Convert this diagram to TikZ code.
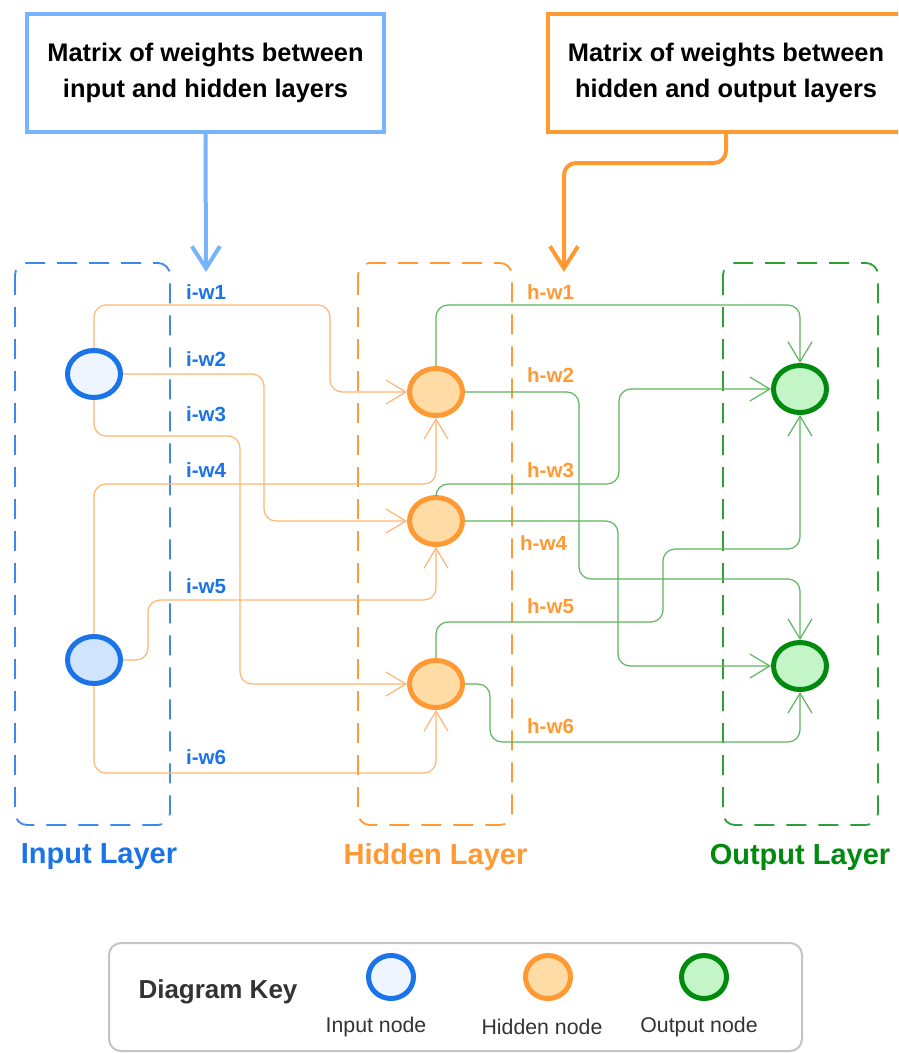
\documentclass[tikz,border=0pt]{standalone}
\usepackage{fontspec}
\setmainfont{Liberation Sans}
\usetikzlibrary{shapes.geometric,arrows.meta}
\definecolor{iblue}{HTML}{1A73E8}
\definecolor{tblue}{HTML}{78B4FE}
\definecolor{horange}{HTML}{FF9933}
\definecolor{cor}{HTML}{FFB570}
\definecolor{ogreen}{HTML}{008A0E}
\definecolor{lgreen}{HTML}{2E9E36}
\definecolor{cgr}{HTML}{5DB55D}
\definecolor{ifillA}{HTML}{EEF5FE}
\definecolor{ifillB}{HTML}{D0E4FE}
\definecolor{hfill}{HTML}{FFDBA6}
\definecolor{ofill}{HTML}{C3F5C7}
\definecolor{keygray}{HTML}{C4C4C4}
\definecolor{txtgray}{HTML}{333333}
\begin{document}
\begin{tikzpicture}[x=1pt,y=-1pt,
  topbox/.style={draw, line width=4pt, fill=white, minimum width=357pt, minimum height=118pt, inner sep=0pt, align=center, font=\fontsize{25.4}{36}\selectfont\bfseries},
  neuron/.style={ellipse, line width=5pt, minimum width=53pt, minimum height=47pt, inner sep=0pt},
  keyneuron/.style={ellipse, line width=5pt, minimum width=45pt, minimum height=43pt, inner sep=0pt},
  layerbox/.style={line width=1.8pt, rounded corners=12pt, dash pattern=on 20pt off 12pt},
  oconn/.style={draw=cor, line width=1.2pt, rounded corners=12pt, -{Straight Barb[length=20pt,width=24pt]}},
  gconn/.style={draw=cgr, line width=1.2pt, rounded corners=12pt, -{Straight Barb[length=20pt,width=24pt]}},
  wlab/.style={anchor=west, inner sep=0pt, font=\fontsize{20.5}{24}\selectfont\bfseries},
  layerlab/.style={inner sep=0pt, font=\fontsize{29}{34}\selectfont\bfseries},
  keylab/.style={inner sep=0pt, text=txtgray, font=\fontsize{21.3}{25}\selectfont},
  bigarrow/.style={line width=4pt, rounded corners=12pt, -{Straight Barb[length=22pt,width=28pt]}}
]
\useasboundingbox (0,0) rectangle (898,1053);
\clip (0,0) rectangle (898,1053);

% layer boxes
\draw[layerbox, draw=iblue!85] (15,263) rectangle (170,825);
\draw[layerbox, draw=horange] (358,263) rectangle (512,825);
\draw[layerbox, draw=lgreen] (723,263) rectangle (878,825);

% top boxes
\node[topbox, draw=tblue] (mA) at (205.5,73) {Matrix of weights between\\input and hidden layers};
\node[topbox, draw=horange] (mB) at (726,73) {Matrix of weights between\\hidden and output layers};
\coordinate (ta) at (206,272);
\coordinate (tb) at (564,272);
\draw[bigarrow, draw=tblue] (mA.south) -- (ta);
\draw[bigarrow, draw=horange] (mB.south) -- (726,163) -| (tb);

% neurons
\node[neuron, draw=iblue, fill=ifillA] (i1) at (94,374) {};
\node[neuron, draw=iblue, fill=ifillB] (i2) at (94,660) {};
\node[neuron, draw=horange, fill=hfill] (h1) at (436,392) {};
\node[neuron, draw=horange, fill=hfill] (h2) at (436,521) {};
\node[neuron, draw=horange, fill=hfill] (h3) at (436,684) {};
\node[neuron, draw=ogreen, fill=ofill] (o1) at (800,389) {};
\node[neuron, draw=ogreen, fill=ofill] (o2) at (800,666) {};

% input -> hidden
\draw[oconn] (i1.north) |- (330,305) |- (h1.west);
\draw[oconn] (i1.east) -| (264,521) -- (h2.west);
\draw[oconn] (i1.south) |- (240,436) |- (h3.west);
\draw[oconn] (i2.north) |- (436,484) -- (h1.south);
\draw[oconn] (i2.east) -| (148,600) -| (h2.south);
\draw[oconn] (i2.south) |- (436,773) -- (h3.south);

% hidden -> output
\draw[gconn] (h1.north) |- (800,305) -- (o1.north);
\draw[gconn] (h1.east) -| (579,579) -| (o2.north);
\draw[gconn] (h2.north) |- (619,484) |- (o1.west);
\draw[gconn] (h2.east) -| (618,666) -- (o2.west);
\draw[gconn] (h3.north) |- (663,622) |- (800,549) -- (o1.south);
\draw[gconn] (h3.east) -| (490,742) -| (o2.south);

% weight labels
\node[wlab, text=iblue] (lw1) at (186,292) {i-w1};
\node[wlab, text=iblue] (lw2) at (186,359) {i-w2};
\node[wlab, text=iblue] (lw3) at (186,414) {i-w3};
\node[wlab, text=iblue] (lw4) at (186,470) {i-w4};
\node[wlab, text=iblue] (lw5) at (186,586) {i-w5};
\node[wlab, text=iblue] (lw6) at (186,757) {i-w6};
\node[wlab, text=horange] (hw1) at (527,292) {h-w1};
\node[wlab, text=horange] (hw2) at (527,375) {h-w2};
\node[wlab, text=horange] (hw3) at (527,470) {h-w3};
\node[wlab, text=horange] (hw4) at (520,543) {h-w4};
\node[wlab, text=horange] (hw5) at (527,606) {h-w5};
\node[wlab, text=horange] (hw6) at (527,726) {h-w6};

% layer labels
\node[layerlab, text=iblue] (li) at (99,857) {Input Layer};
\node[layerlab, text=horange] (lh) at (435.5,857) {Hidden Layer};
\node[layerlab, text=ogreen] (lo) at (800,857) {Output Layer};

% key
\draw[draw=keygray, line width=2pt, rounded corners=12pt] (109,943) rectangle (802,1051);
\node[inner sep=0pt, text=txtgray, font=\fontsize{26}{30}\selectfont\bfseries] (kt) at (218,992) {Diagram Key};
\node[keyneuron, draw=iblue, fill=ifillA] (k1) at (391,977) {};
\node[keyneuron, draw=horange, fill=hfill] (k2) at (548,977) {};
\node[keyneuron, draw=ogreen, fill=ofill] (k3) at (704,977) {};
\node[keylab] (kl1) at (376,1027) {Input node};
\node[keylab] (kl2) at (542,1027) {Hidden node};
\node[keylab] (kl3) at (699,1027) {Output node};
\end{tikzpicture}
\end{document}
